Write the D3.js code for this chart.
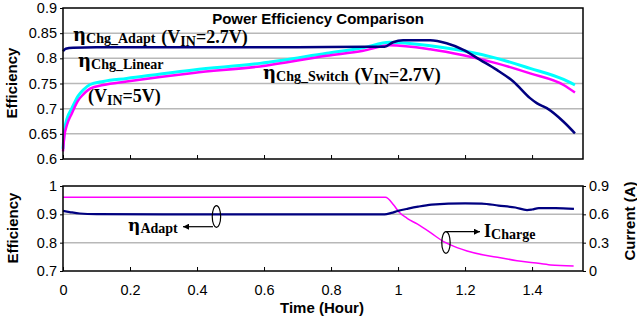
<!DOCTYPE html>
<html>
<head>
<meta charset="utf-8">
<script src="https://cdn.jsdelivr.net/npm/d3@7"></script>
<style>
  body { margin: 0; background: #fff; }
  .tick-label { font-family: "Liberation Sans", Arial, sans-serif; font-size: 14.5px; fill: #000; }
  .axis-title { font-family: "Liberation Sans", Arial, sans-serif; font-size: 15px; font-weight: bold; fill: #000; }
  .note { font-family: "Liberation Serif", "Times New Roman", serif; font-weight: bold; fill: #000; }
  .greek { font-family: "DejaVu Serif", serif; font-weight: bold; }
  .grid { stroke: #b8b8b8; stroke-width: 1.5; }
</style>
</head>
<body>
<div id="chart"></div>
<script>
// tick values
var xTicks = [0, 0.2, 0.4, 0.6, 0.8, 1, 1.2, 1.4];
var topTicks = [0.6, 0.65, 0.7, 0.75, 0.8, 0.85, 0.9];
var botTicks = [0.7, 0.8, 0.9, 1];
var curTicks = [0, 0.3, 0.6, 0.9];

// top plot: charger efficiency
var adaptTime = [0, 0.008, 0.03, 0.1, 0.3, 0.5, 0.7, 0.9, 0.96, 0.985, 1.015, 1.096, 1.145, 1.195, 1.245, 1.295, 1.344, 1.394, 1.414, 1.444, 1.494, 1.528];
var adaptEff  = [0.814, 0.819, 0.821, 0.822, 0.822, 0.822, 0.822, 0.823, 0.823, 0.832, 0.836, 0.836, 0.83, 0.817, 0.797, 0.777, 0.754, 0.721, 0.711, 0.701, 0.674, 0.651];

var linearTime = [0, 0.004, 0.012, 0.026, 0.045, 0.06, 0.081, 0.12, 0.19, 0.389, 0.588, 0.787, 0.896, 0.975, 1.096, 1.195, 1.295, 1.394, 1.494, 1.528];
var linearEff  = [0.62, 0.655, 0.68, 0.70, 0.725, 0.737, 0.748, 0.754, 0.760, 0.777, 0.79, 0.81, 0.821, 0.832, 0.825, 0.815, 0.80, 0.78, 0.758, 0.747];

var switchTime = [0, 0.004, 0.012, 0.026, 0.045, 0.06, 0.081, 0.12, 0.19, 0.389, 0.588, 0.787, 0.896, 0.975, 1.096, 1.195, 1.295, 1.394, 1.494, 1.528];
var switchEff  = [0.615, 0.645, 0.668, 0.69, 0.716, 0.728, 0.74, 0.747, 0.754, 0.771, 0.784, 0.805, 0.815, 0.826, 0.818, 0.806, 0.79, 0.77, 0.747, 0.732];

// bottom plot: adaptive efficiency and charge current
var etaTime = [0, 0.02, 0.05, 0.1, 0.3, 0.5, 0.7, 0.9, 0.96, 0.98, 1.0, 1.03, 1.06, 1.1, 1.2, 1.25, 1.3, 1.35, 1.385, 1.4, 1.42, 1.47, 1.525];
var etaEff  = [0.912, 0.908, 0.903, 0.901, 0.9, 0.9, 0.9, 0.9, 0.9, 0.905, 0.912, 0.92, 0.927, 0.934, 0.939, 0.938, 0.931, 0.924, 0.915, 0.917, 0.922, 0.922, 0.919];

var chargeTime    = [0, 0.962, 0.987, 1.002, 1.027, 1.057, 1.097, 1.136, 1.176, 1.206, 1.256, 1.305, 1.355, 1.405, 1.455, 1.524];
var chargeCurrent = [0.78, 0.78, 0.699, 0.628, 0.558, 0.498, 0.406, 0.31, 0.247, 0.212, 0.169, 0.141, 0.109, 0.088, 0.064, 0.053];

function init() {
    var w = 637, h = 324;
    var left = 63, right = 583;

    var svg = d3.select("#chart").append("svg")
        .attr("width", w)
        .attr("height", h);

    var defs = svg.append("defs");
    defs.append("marker")
        .attr("id", "arrow")
        .attr("viewBox", "0 0 10 10")
        .attr("refX", 10).attr("refY", 5)
        .attr("markerWidth", 9).attr("markerHeight", 6)
        .attr("markerUnits", "userSpaceOnUse")
        .attr("orient", "auto")
        .append("path").attr("d", "M0,0L10,5L0,10Z").attr("fill", "#000");

    var xScale = d3.scaleLinear().domain([0, 1.552]).range([left, right]);
    var yTop = d3.scaleLinear().domain([0.6, 0.9]).range([159, 8]);
    var yBot = d3.scaleLinear().domain([0.7, 1]).range([271, 186]);
    var yCur = d3.scaleLinear().domain([0, 0.9]).range([271, 186]);

    function zip(t, v) { return t.map(function(d, i) { return [d, v[i]]; }); }

    // ---------- top plot ----------
    svg.append("g").selectAll("line")
        .data(topTicks.slice(1, -1))
        .enter().append("line")
        .attr("class", "grid")
        .attr("x1", left).attr("x2", right)
        .attr("y1", function(d) { return yTop(d); })
        .attr("y2", function(d) { return yTop(d); });

    var topLine = d3.line()
        .x(function(d) { return xScale(d[0]); })
        .y(function(d) { return yTop(d[1]); })
        .curve(d3.curveMonotoneX);

    svg.append("path").datum(zip(linearTime, linearEff))
        .attr("fill", "none").attr("stroke", "#00ffff").attr("stroke-width", 3)
        .attr("d", topLine);
    svg.append("path").datum(zip(switchTime, switchEff))
        .attr("fill", "none").attr("stroke", "#ff00ff").attr("stroke-width", 2.5)
        .attr("d", topLine);
    svg.append("path").datum(zip(adaptTime, adaptEff))
        .attr("fill", "none").attr("stroke", "#000080").attr("stroke-width", 2.5)
        .attr("d", topLine);

    // axes for top plot
    var topY = d3.axisLeft(yTop).tickValues(topTicks).tickSize(3).tickFormat(d3.format("~g"));
    svg.append("g").attr("transform", "translate(" + left + ",0)").call(topY)
        .call(styleAxis);
    var topX = d3.axisBottom(xScale).tickValues(xTicks).tickSize(-4).tickFormat("");
    svg.append("g").attr("transform", "translate(0,159)").call(topX)
        .call(styleAxis);

    svg.append("rect")
        .attr("x", left).attr("y", 8)
        .attr("width", right - left).attr("height", 151)
        .attr("fill", "none").attr("stroke", "#000").attr("stroke-width", 1.5);

    // ---------- bottom plot ----------
    svg.append("g").selectAll("line")
        .data([0.8, 0.9])
        .enter().append("line")
        .attr("class", "grid")
        .attr("x1", left).attr("x2", right)
        .attr("y1", function(d) { return yBot(d); })
        .attr("y2", function(d) { return yBot(d); });

    var curLine = d3.line()
        .x(function(d) { return xScale(d[0]); })
        .y(function(d) { return yCur(d[1]); })
        .curve(d3.curveMonotoneX);
    var etaLine = d3.line()
        .x(function(d) { return xScale(d[0]); })
        .y(function(d) { return yBot(d[1]); })
        .curve(d3.curveMonotoneX);

    svg.append("path").datum(zip(chargeTime, chargeCurrent))
        .attr("fill", "none").attr("stroke", "#ff00ff").attr("stroke-width", 1.5)
        .attr("d", curLine);
    svg.append("path").datum(zip(etaTime, etaEff))
        .attr("fill", "none").attr("stroke", "#000080").attr("stroke-width", 2.2)
        .attr("d", etaLine);

    var botY = d3.axisLeft(yBot).tickValues(botTicks).tickSize(3).tickFormat(d3.format("~g"));
    svg.append("g").attr("transform", "translate(" + left + ",0)").call(botY)
        .call(styleAxis);
    var curY = d3.axisRight(yCur).tickValues(curTicks).tickSize(3).tickFormat(d3.format("~g"));
    svg.append("g").attr("transform", "translate(" + right + ",0)").call(curY)
        .call(styleAxis);
    var botX = d3.axisBottom(xScale).tickValues(xTicks).tickSize(-4).tickFormat(d3.format("~g"));
    svg.append("g").attr("transform", "translate(0,271)").call(botX)
        .call(styleAxis)
        .selectAll("text").attr("y", 14);

    svg.append("rect")
        .attr("x", left).attr("y", 186)
        .attr("width", right - left).attr("height", 85)
        .attr("fill", "none").attr("stroke", "#000").attr("stroke-width", 1.5);

    function styleAxis(g) {
        g.select(".domain").remove();
        g.selectAll(".tick line").attr("stroke", "#000").attr("stroke-width", 1);
        g.selectAll(".tick text").attr("class", "tick-label")
            .attr("font-size", null).attr("font-family", null);
        g.attr("font-size", null).attr("font-family", null);
    }

    // ---------- titles ----------
    svg.append("text").attr("class", "axis-title")
        .attr("x", 318).attr("y", 24).attr("text-anchor", "middle")
        .text("Power Efficiency Comparison");
    svg.append("text").attr("class", "axis-title")
        .attr("transform", "translate(17,83) rotate(-90)")
        .attr("text-anchor", "middle").attr("font-size", "14px")
        .text("Efficiency");
    svg.append("text").attr("class", "axis-title")
        .attr("transform", "translate(18,228) rotate(-90)")
        .attr("text-anchor", "middle").attr("font-size", "14px")
        .text("Efficiency");
    svg.append("text").attr("class", "axis-title")
        .attr("transform", "translate(635,221) rotate(-90)")
        .attr("text-anchor", "middle")
        .text("Current (A)");
    svg.append("text").attr("class", "axis-title")
        .attr("x", 322).attr("y", 313).attr("text-anchor", "middle")
        .text("Time (Hour)");

    // ---------- annotations ----------
    function eta(x, y, sub, extra) {
        var t = svg.append("text").attr("class", "note").attr("x", x).attr("y", y);
        t.append("tspan").attr("class", "greek").attr("font-size", "18px").text("\u03b7");
        t.append("tspan").attr("font-size", "14px").attr("dy", 2).text(sub);
        if (extra) {
            t.append("tspan").attr("font-size", "18px").attr("dy", 0).attr("dx", 6).text("(V");
            t.append("tspan").attr("font-size", "14px").attr("dy", 3).text("IN");
            t.append("tspan").attr("font-size", "18px").attr("dy", -3).text(extra);
        }
        return t;
    }
    eta(73, 41, "Chg_Adapt", "=2.7V)");
    eta(78, 67, "Chg_Linear");
    eta(263, 79, "Chg_Switch", "=2.7V)");

    var vin5 = svg.append("text").attr("class", "note").attr("x", 88).attr("y", 102);
    vin5.append("tspan").attr("font-size", "18px").text("(V");
    vin5.append("tspan").attr("font-size", "14px").attr("dy", 3).text("IN");
    vin5.append("tspan").attr("font-size", "18px").attr("dy", -3).text("=5V)");

    // eta_Adapt with arrow pointing to left axis
    var ea = svg.append("text").attr("class", "note").attr("x", 128).attr("y", 231);
    ea.append("tspan").attr("class", "greek").attr("font-size", "17px").text("\u03b7");
    ea.append("tspan").attr("font-size", "14px").attr("dy", 2).text("Adapt");
    svg.append("ellipse")
        .attr("cx", xScale(0.458)).attr("cy", 216.5).attr("rx", 4.2).attr("ry", 10.8)
        .attr("fill", "none").attr("stroke", "#000").attr("stroke-width", 1.2);
    svg.append("line")
        .attr("x1", xScale(0.458) - 3.5).attr("y1", 226.7)
        .attr("x2", 183).attr("y2", 226.7)
        .attr("stroke", "#000").attr("stroke-width", 1.2)
        .attr("marker-end", "url(#arrow)");

    // I_Charge with arrow pointing to right axis
    svg.append("ellipse")
        .attr("cx", xScale(1.143)).attr("cy", 242.5).attr("rx", 4.2).attr("ry", 10.8)
        .attr("fill", "none").attr("stroke", "#000").attr("stroke-width", 1.2);
    svg.append("line")
        .attr("x1", xScale(1.143)).attr("y1", 231.7)
        .attr("x2", 480).attr("y2", 231.7)
        .attr("stroke", "#000").attr("stroke-width", 1.2)
        .attr("marker-end", "url(#arrow)");
    var ic = svg.append("text").attr("class", "note").attr("x", 484).attr("y", 237);
    ic.append("tspan").attr("font-size", "18px").text("I");
    ic.append("tspan").attr("font-size", "14px").attr("dy", 2).text("Charge");
}

window.onload = init;
</script>
</body>
</html>
